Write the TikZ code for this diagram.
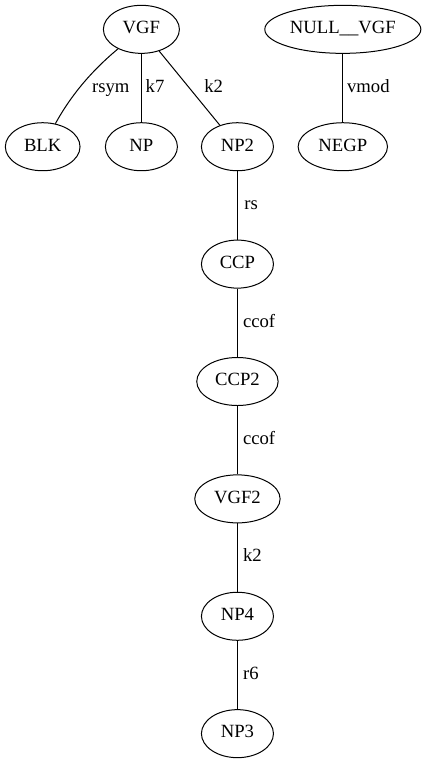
\documentclass[tikz,border=0pt]{standalone}
\usepackage{fontspec}
\setmainfont{Liberation Serif}
\usetikzlibrary{shapes.geometric}
\begin{document}
\begin{tikzpicture}[x=1pt,y=-1pt,
  every node/.style={font=\rmfamily\fontsize{14}{16}\selectfont},
  gnode/.style={draw, ellipse, line width=0.75pt, inner sep=0pt, minimum height=36pt, minimum width=54pt, text height=9.5pt, text depth=3pt},
  elabel/.style={inner sep=0pt, text height=9.5pt, text depth=3pt},
  edge/.style={draw, line width=0.75pt}]
\useasboundingbox (0,0) rectangle (321,572);
\node[gnode, minimum width=57pt] (VGF) at (106,22) {VGF};
\node[gnode, minimum width=117pt] (NULLVGF) at (257,22) {NULL\_\_VGF};
\node[gnode, minimum width=56pt] (BLK) at (32,110) {BLK};
\node[gnode] (NP) at (106,110) {NP};
\node[gnode] (NP2) at (178,110) {NP2};
\node[gnode, minimum width=67pt] (NEGP) at (257,110) {NEGP};
\node[gnode] (CCP) at (178,198) {CCP};
\node[gnode, minimum width=61pt] (CCP2) at (178,286) {CCP2};
\node[gnode, minimum width=64pt] (VGF2) at (178,374) {VGF2};
\node[gnode] (NP4) at (178,462) {NP4};
\node[gnode] (NP3) at (178,550) {NP3};

\draw[edge] (VGF) .. controls (70,52) and (54,70) .. (BLK);
\draw[edge] (VGF) -- (NP);
\draw[edge] (VGF) -- (NP2);
\draw[edge] (NULLVGF) -- (NEGP);
\draw[edge] (NP2) -- (CCP);
\draw[edge] (CCP) -- (CCP2);
\draw[edge] (CCP2) -- (VGF2);
\draw[edge] (VGF2) -- (NP4);
\draw[edge] (NP4) -- (NP3);

\node[elabel] (lrsym) at (83,66) {rsym};
\node[elabel, anchor=west] (lk7) at (109,66) {k7};
\node[elabel, anchor=west] (lk2a) at (153,66) {k2};
\node[elabel, anchor=west] (lvmod) at (260,66) {vmod};
\node[elabel, anchor=west] (lrs) at (183,154) {rs};
\node[elabel, anchor=west] (lccof1) at (182,242) {ccof};
\node[elabel, anchor=west] (lccof2) at (182,330) {ccof};
\node[elabel, anchor=west] (lk2b) at (182,418) {k2};
\node[elabel, anchor=west] (lr6) at (182,506) {r6};
\end{tikzpicture}
\end{document}
